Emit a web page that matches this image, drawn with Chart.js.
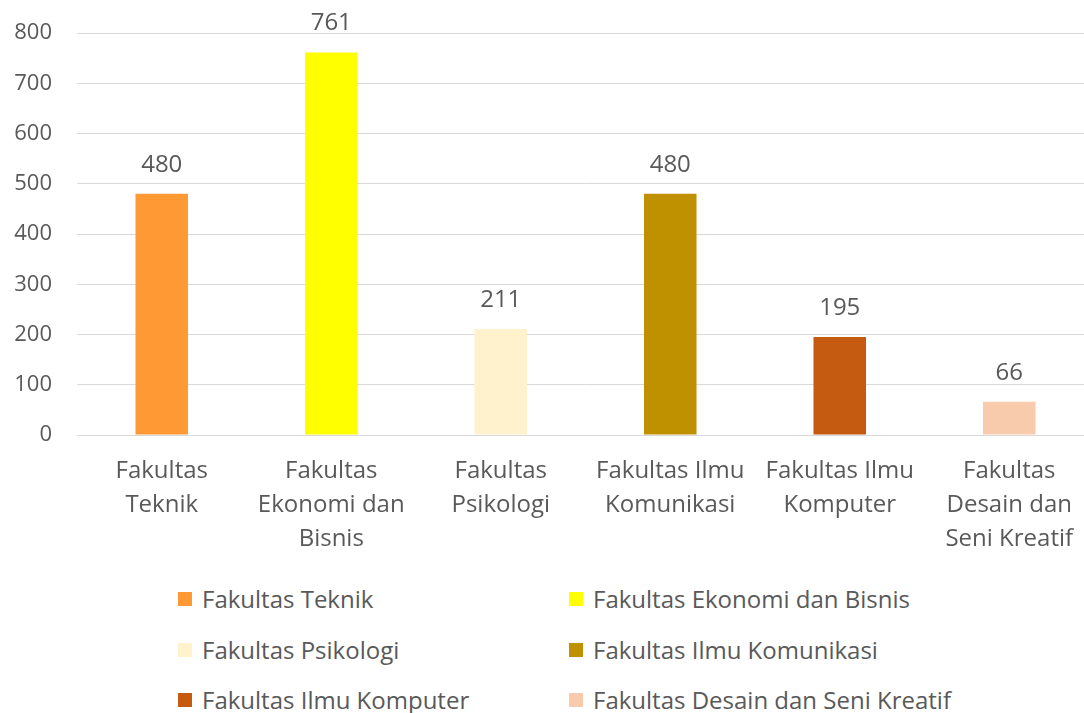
<!DOCTYPE html>
<html>
<head>
<meta charset="utf-8">
<script src="https://cdn.jsdelivr.net/npm/chart.js@4"></script>
<style>
  body { margin: 0; background: #fff; overflow: hidden; width: 1084px; height: 713px; position: relative; }
  #wrap { position: absolute; left: 0; top: 0; width: 1094px; height: 560px; }
  .leg { position: absolute; font-family: "Open Sans", sans-serif; font-size: 24px; color: #595959; white-space: nowrap; }
  .leg i { position: absolute; left: 0; top: 50%; width: 14px; height: 14px; margin-top: -7px; }
  .leg span { position: absolute; left: 24px; top: 50%; transform: translateY(-50%); line-height: 1; }
</style>
</head>
<body>
<div id="wrap"><canvas id="chart" width="1094" height="560"></canvas></div>
<div id="legend"></div>
<script>
const categories = ["Fakultas Teknik", "Fakultas Ekonomi dan Bisnis", "Fakultas Psikologi",
  "Fakultas Ilmu Komunikasi", "Fakultas Ilmu Komputer", "Fakultas Desain dan Seni Kreatif"];
const tickLabels = [["Fakultas", "Teknik"], ["Fakultas", "Ekonomi dan", "Bisnis"], ["Fakultas", "Psikologi"],
  ["Fakultas Ilmu", "Komunikasi"], ["Fakultas Ilmu", "Komputer"], ["Fakultas", "Desain dan", "Seni Kreatif"]];
const values = [480, 761, 211, 480, 195, 66];
const yTicks = [0, 100, 200, 300, 400, 500, 600, 700, 800];
const colors = ["#FF9933", "#FFFF00", "#FFF2CC", "#BF9000", "#C55A11", "#F8CBAD"];

const FONT = "'Open Sans', sans-serif";
const GREY = "#595959";

// value labels above the bars
const barLabels = {
  id: "barLabels",
  afterDatasetsDraw(chart) {
    const ctx = chart.ctx;
    const meta = chart.getDatasetMeta(0);
    ctx.save();
    ctx.font = "24px " + FONT;
    ctx.fillStyle = GREY;
    ctx.textAlign = "center";
    ctx.textBaseline = "middle";
    meta.data.forEach((bar, i) => {
      ctx.fillText(String(values[i]), bar.x, bar.y - 29);
    });
    ctx.restore();
  }
};

new Chart(document.getElementById("chart"), {
  type: "bar",
  data: {
    labels: tickLabels,
    datasets: [{
      data: values,
      backgroundColor: colors,
      barPercentage: 0.31,
      categoryPercentage: 1
    }]
  },
  options: {
    responsive: false,
    animation: false,
    layout: { padding: { top: 33, right: 0, left: 0, bottom: 0 } },
    plugins: { legend: { display: false }, tooltip: { enabled: false } },
    scales: {
      x: {
        grid: { display: false, drawTicks: false },
        border: { display: true, color: "#d9d9d9" },
        ticks: { color: GREY, padding: 19, maxRotation: 0, autoSkip: false,
          font: { family: FONT, size: 24, lineHeight: 34 / 24 } },
        afterFit(scale) { scale.height = 125; }
      },
      y: {
        min: 0, max: 800,
        afterBuildTicks(scale) { scale.ticks = yTicks.map(v => ({ value: v })); },
        grid: { color: "#d9d9d9", drawTicks: false },
        border: { display: false },
        ticks: { color: GREY, padding: 25, font: { family: FONT, size: 22 } },
        afterFit(scale) {
          scale.width = 77;
          // tick padding would otherwise push the plot top down
          scale.paddingTop = 0;
          scale.paddingBottom = 0;
        }
      }
    }
  },
  plugins: [barLabels]
});

// legend, two columns
const legend = document.getElementById("legend");
categories.forEach((name, i) => {
  const item = document.createElement("div");
  item.className = "leg";
  item.style.left = (i % 2 === 0 ? 178 : 569) + "px";
  item.style.top = (599 + Math.floor(i / 2) * 50.5) + "px";
  item.innerHTML = '<i style="background:' + colors[i] + '"></i><span>' + name + '</span>';
  legend.appendChild(item);
});
</script>
</body>
</html>
